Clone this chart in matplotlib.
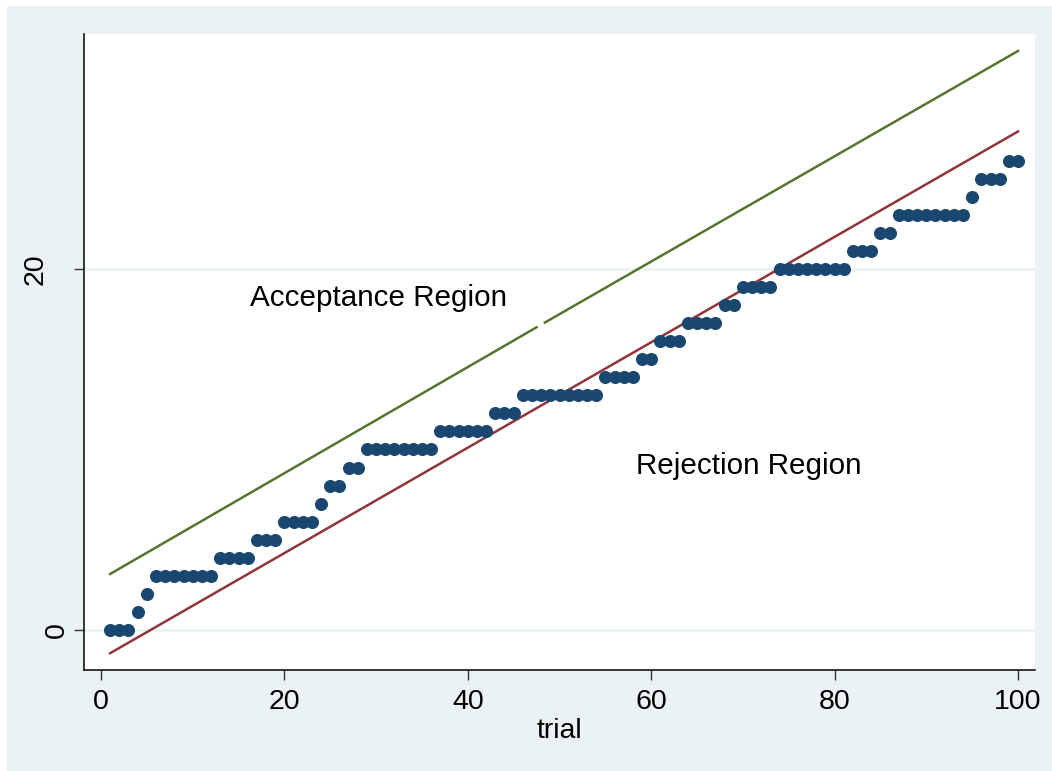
import matplotlib
matplotlib.use("Agg")
import matplotlib.pyplot as plt
from matplotlib.patches import Rectangle
from matplotlib.transforms import ScaledTranslation

plt.rcParams['font.family'] = ['Liberation Sans', 'DejaVu Sans']

# cumulative successes per trial
trial = list(range(1, 101))
successes = (
    [0, 0, 0, 1, 2] + [3] * 7 + [4] * 4 + [5] * 3 + [6] * 4 + [7] + [8] * 2 + [9] * 2
    + [10] * 8 + [11] * 6 + [12] * 3 + [13] * 9 + [14] * 4 + [15] * 2 + [16] * 3
    + [17] * 4 + [18] * 2 + [19] * 4 + [20] * 8 + [21] * 3 + [22] * 2 + [23] * 8
    + [24] + [25] * 3 + [26] * 2
)

# boundary lines (upper one has a small break)
upper_x = [1, 47.5, None, 48.4, 100]
upper_y = [3.10, 16.77, None, 17.03, 32.08]
lower_x = [1, 100]
lower_y = [-1.29, 27.62]

xticks = [0, 20, 40, 60, 80, 100]
yticks = [0, 20]

navy = '#1A476F'
maroon = '#90353B'
green = '#55752F'
bg = '#EAF2F3'

fig = plt.figure(figsize=(10.52, 7.71), dpi=100)
fig.patch.set_facecolor('white')
fig.patches.append(Rectangle((7 / 1052, 0), 1 - 7 / 1052, 1 - 6 / 771,
                             transform=fig.transFigure, facecolor=bg,
                             edgecolor='none', zorder=-10))
ax = fig.add_axes([84 / 1052, 1 - 670 / 771, (1035 - 84) / 1052, (670 - 34) / 771])
ax.set_facecolor('white')

for yt in yticks:
    ax.axhline(yt, color=bg, lw=2, zorder=0)

ux = [v if v is not None else float('nan') for v in upper_x]
uy = [v if v is not None else float('nan') for v in upper_y]
ax.plot(ux, uy, color=green, lw=1.8, zorder=2)
ax.plot(lower_x, lower_y, color=maroon, lw=1.8, zorder=2)
ax.plot(trial, successes, 'o', color=navy, markersize=9.4, markeredgewidth=0, zorder=3)

ax.text(30.3, 18.4, 'Acceptance Region', fontsize=21.3, ha='center', va='center')
ax.text(70.6, 9.1, 'Rejection Region', fontsize=21.3, ha='center', va='center')

ax.set_xlim(-1.85, 101.85)
ax.set_ylim(-2.22, 33.02)
ax.set_xticks(xticks)
ax.set_yticks(yticks)
ax.set_yticklabels([str(t) for t in yticks], rotation=90, va='center')
ax.tick_params(axis='both', length=7.5, width=1, color='#333333', labelsize=20.5)
ax.tick_params(axis='x', pad=6)
ax.tick_params(axis='y', pad=3)
ax.set_xlabel('trial', fontsize=20.5, labelpad=2)

# the "20" label sits further out than "0" in the original
for lab in ax.get_yticklabels():
    if lab.get_text() == '20':
        lab.set_transform(lab.get_transform() + ScaledTranslation(-0.21, 0, fig.dpi_scale_trans))

for s in ['top', 'right']:
    ax.spines[s].set_visible(False)
for s in ['left', 'bottom']:
    ax.spines[s].set_color('black')
    ax.spines[s].set_linewidth(1.1)

fig.savefig('out.png', dpi=100)
